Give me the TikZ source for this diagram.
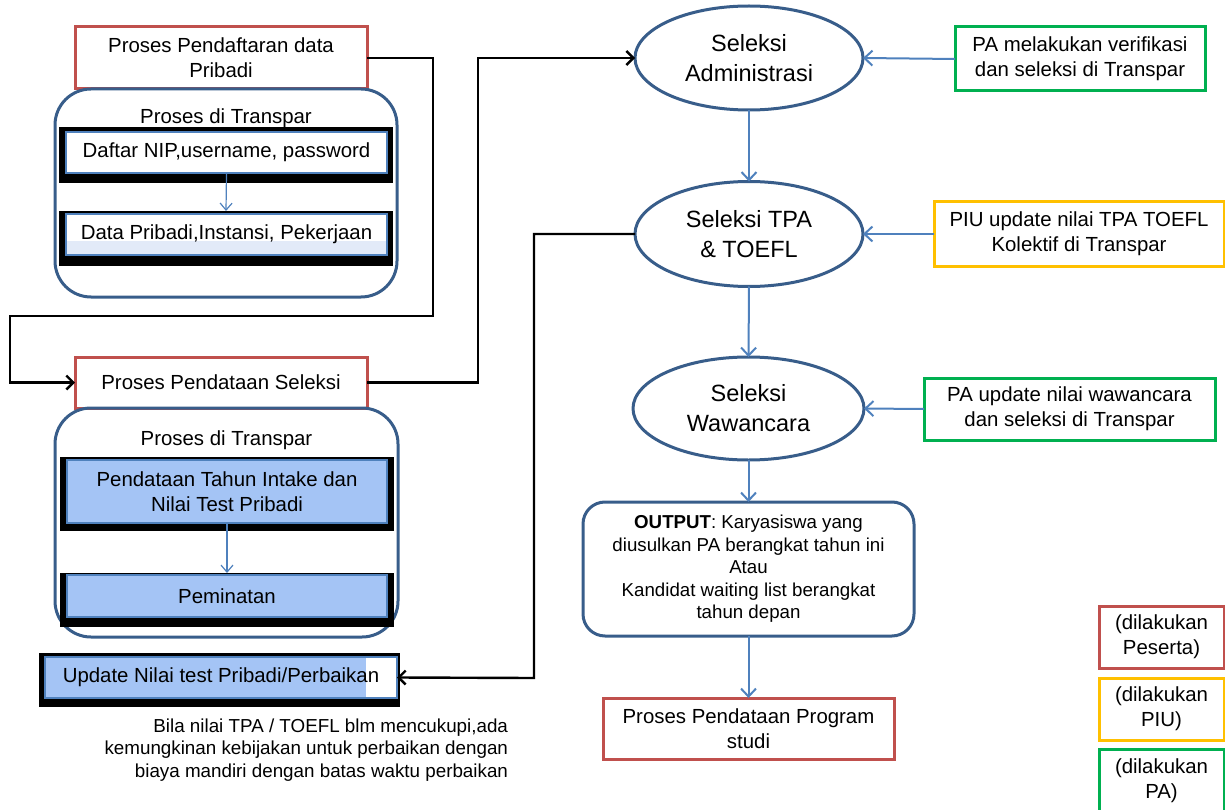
\documentclass[tikz,border=0pt]{standalone}
\usepackage{fontspec}
\setmainfont{Liberation Sans}
\usetikzlibrary{arrows.meta,shapes.geometric}
\definecolor{bred}{RGB}{192,80,77}
\definecolor{bblue}{RGB}{56,93,138}
\definecolor{ablue}{RGB}{79,129,189}
\definecolor{bgreen}{RGB}{0,176,80}
\definecolor{byellow}{RGB}{255,192,0}
\definecolor{lblue}{RGB}{164,196,245}
\definecolor{vlblue}{RGB}{226,234,248}
\begin{document}
\begin{tikzpicture}[x=1pt,y=-1pt,
  every node/.style={font=\fontsize{20.4}{25}\selectfont, inner sep=0pt, outer sep=0pt, align=center},
  redbox/.style={draw=bred, line width=3pt},
  gbox/.style={draw=bgreen, line width=3pt},
  ybox/.style={draw=byellow, line width=3pt},
  roundbox/.style={draw=bblue, line width=3pt, rounded corners=36pt},
  outbox/.style={draw=bblue, line width=3pt, rounded corners=22pt, font=\fontsize{18.7}{22.5}\selectfont},
  ell/.style={ellipse, draw=bblue, line width=3pt, font=\fontsize{23.5}{30}\selectfont},
  framebox/.style={fill=black},
  inbox/.style={draw=ablue, line width=1.5pt},
  conn/.style={draw=black, line width=2.4pt, -{Straight Barb[length=7pt,width=14pt]}},
  barrow/.style={draw=ablue, line width=2pt, -{Straight Barb[length=8pt,width=15pt]}},
  thinarrow/.style={draw=ablue, line width=1.2pt, -{Straight Barb[length=7pt,width=12pt]}}
]
\useasboundingbox (0,0) rectangle (1225,810);

% ---------- left column, upper part ----------
\node[redbox, minimum width=292pt, minimum height=62pt] (rb1) at (221,58) {Proses Pendaftaran  data\\Pribadi};
\node[roundbox, minimum width=342pt, minimum height=208pt] (rd1) at (226,193) {};
\node (t1) at (226,118) {Proses di Transpar};
\node[framebox, minimum width=334pt, minimum height=56pt] (f1) at (226,155) {};
\node[inbox, fill=white, minimum width=321pt, minimum height=41pt] (i1) at (226.5,152.5) {Daftar NIP,username,  password};
\node[framebox, minimum width=334pt, minimum height=55pt] (f2) at (226,238.5) {};
\node[inbox, fill=white, minimum width=321pt, minimum height=41pt,
  path picture={\fill[vlblue] ([yshift=14pt]path picture bounding box.south west) rectangle (path picture bounding box.south east);}] (i2) at (226.5,234.5) {Data Pribadi,Instansi,  Pekerjaan};
\draw[thinarrow] (i1.south) -- (f2.north);

% ---------- left column, lower part ----------
\node[redbox, minimum width=292pt, minimum height=51pt] (rb2) at (221,382.5) {Proses Pendataan  Seleksi};
\node[roundbox, minimum width=343pt, minimum height=229pt] (rd2) at (226.5,522.5) {};
\node (t2) at (226.5,440) {Proses di Transpar};
\node[framebox, minimum width=334pt, minimum height=74pt] (f3) at (227,494) {};
\node[inbox, fill=lblue, minimum width=320pt, minimum height=63pt] (i3) at (227,491.5) {Pendataan  Tahun  Intake  dan\\Nilai  Test  Pribadi};
\node[framebox, minimum width=334pt, minimum height=54pt] (f4) at (227,600) {};
\node[inbox, fill=lblue, minimum width=320pt, minimum height=42pt] (i4) at (227,596) {Peminatan};
\draw[thinarrow] (i3.south) -- (f4.north);

\node[framebox, minimum width=361pt, minimum height=54pt] (f5) at (219.5,680) {};
\node[inbox, fill=white, minimum width=352pt, minimum height=41pt,
  path picture={\fill[lblue] (path picture bounding box.south west) rectangle ([xshift=-31pt]path picture bounding box.north east);}] (upd) at (221,677.5) {Update  Nilai  test  Pribadi/Perbaikan};

\node[anchor=east, align=right, font=\fontsize{18.8}{22.5}\selectfont] (note) at (508,750) {Bila nilai TPA / TOEFL blm mencukupi,ada\\kemungkinan kebijakan untuk perbaikan dengan\\biaya mandiri dengan batas waktu perbaikan};

% ---------- centre column ----------
\node[ell, minimum width=228pt, minimum height=104pt] (e1) at (749,58) {Seleksi\\Administrasi};
\node[ell, minimum width=228pt, minimum height=105pt] (e2) at (749,234) {Seleksi TPA\\\& TOEFL};
\node[ell, minimum width=231pt, minimum height=103pt] (e3) at (748.5,408.5) {Seleksi\\Wawancara};
\node[outbox, minimum width=331pt, minimum height=134pt] (out) at (748.5,569) {\textbf{OUTPUT}: Karyasiswa  yang\\diusulkan PA berangkat tahun ini\\Atau\\Kandidat waiting list berangkat\\tahun depan};
\node[redbox, minimum width=291pt, minimum height=61pt] (rb3) at (748.5,728.5) {Proses  Pendataan  Program\\studi};

% ---------- right column ----------
\node[gbox, minimum width=250pt, minimum height=64pt] (g1) at (1080,59) {PA melakukan  verifikasi\\dan seleksi  di Transpar};
\node[ybox, minimum width=290pt, minimum height=64pt] (y1) at (1079,234) {PIU update  nilai  TPA TOEFL\\Kolektif  di Transpar};
\node[gbox, minimum width=291pt, minimum height=62pt] (g2) at (1069.5,409) {PA update  nilai  wawancara\\dan  seleksi  di Transpar};

% legend
\node[redbox, minimum width=125pt, minimum height=62pt] (L1) at (1161.5,637) {(dilakukan\\Peserta)};
\node[ybox, minimum width=125pt, minimum height=62pt] (L2) at (1161.5,709) {(dilakukan\\PIU)};
\node[gbox, minimum width=125pt, minimum height=64pt] (L3) at (1161.5,781) {(dilakukan\\PA)};

% ---------- connectors ----------
\coordinate (c1) at (433,316);
\coordinate (c2) at (10,316);
\draw[conn] (rb1.east) -| (c1) -- (c2) |- (rb2.west);
\coordinate (c3) at (478,58);
\draw[conn] (rb2.east) -| (c3) -- (e1.west);
\coordinate (c4) at (534,678);
\draw[conn] (e2.west) -| (c4) -- (upd.east);

\draw[barrow] (e1.south) -- (e2.north);
\draw[barrow] (e2.south) -- (e3.north);
\draw[barrow] (e3.south) -- (out.north);
\draw[barrow] (out.south) -- (rb3.north);
\draw[barrow] (g1.west) -- (e1.east);
\draw[barrow] (y1.west) -- (e2.east);
\draw[barrow] (g2.west) -- (e3.east);
\end{tikzpicture}
\end{document}
